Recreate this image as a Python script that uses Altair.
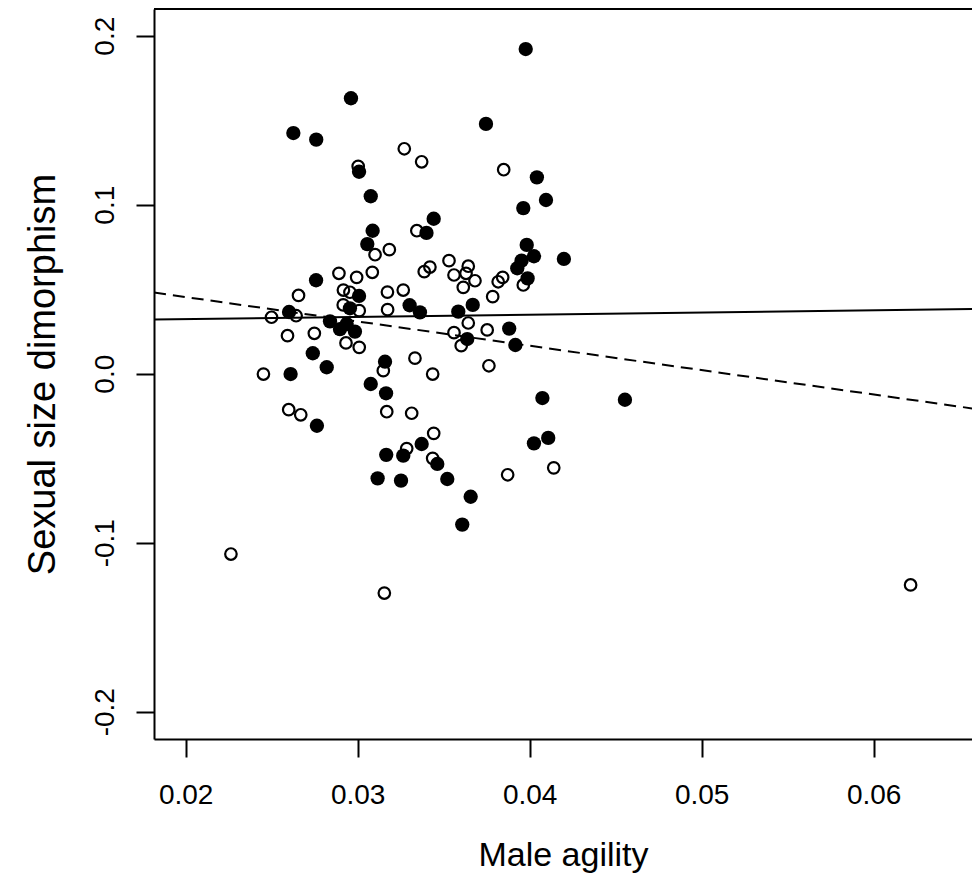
import altair as alt
import pandas as pd

# Filled circles (male agility, sexual size dimorphism)
fill_x = [0.03977, 0.03746, 0.02961, 0.02626, 0.02759, 0.03008, 0.04042, 0.04095, 0.03963, 0.03076,
          0.03442, 0.03400, 0.03087, 0.03056, 0.03983, 0.04025, 0.03953, 0.03928, 0.04199, 0.03988,
          0.02758, 0.03008, 0.02955, 0.02601, 0.03302, 0.03362, 0.03585, 0.03669, 0.02839, 0.02897,
          0.02936, 0.02984, 0.03881, 0.03637, 0.03917, 0.02739, 0.02820, 0.03159, 0.02610, 0.03076,
          0.03165, 0.04074, 0.04554, 0.02763, 0.03372, 0.04025, 0.04108, 0.03166, 0.03265, 0.03463,
          0.03116, 0.03252, 0.03521, 0.03657, 0.03608]
fill_y = [0.1921, 0.1478, 0.1630, 0.1424, 0.1385, 0.1195, 0.1162, 0.1028, 0.0980, 0.1050,
          0.0917, 0.0833, 0.0846, 0.0767, 0.0762, 0.0695, 0.0669, 0.0624, 0.0679, 0.0564,
          0.0553, 0.0460, 0.0387, 0.0365, 0.0405, 0.0363, 0.0367, 0.0407, 0.0310, 0.0264,
          0.0294, 0.0249, 0.0267, 0.0205, 0.0170, 0.0121, 0.0038, 0.0071, -0.0002, -0.0061,
          -0.0116, -0.0144, -0.0154, -0.0308, -0.0416, -0.0412, -0.0380, -0.0480, -0.0485, -0.0534,
          -0.0619, -0.0633, -0.0623, -0.0728, -0.0893]

# Open circles
open_x = [0.02263, 0.03155, 0.06215, 0.03003, 0.03271, 0.03372, 0.03849, 0.03344, 0.03184, 0.03101,
          0.02891, 0.02994, 0.03085, 0.03420, 0.03387, 0.02656, 0.02917, 0.02955, 0.03173, 0.03265,
          0.02916, 0.03009, 0.03174, 0.02499, 0.02642, 0.02592, 0.02748, 0.02932, 0.03009, 0.03149,
          0.03333, 0.02452, 0.03436, 0.02599, 0.02669, 0.03169, 0.03314, 0.03442, 0.03285, 0.03436,
          0.03531, 0.03643, 0.03560, 0.03630, 0.03682, 0.03614, 0.03843, 0.03817, 0.03785, 0.03963,
          0.03643, 0.03560, 0.03753, 0.03602, 0.03763, 0.04140, 0.03872]
open_y = [-0.1067, -0.1298, -0.1250, 0.1227, 0.1331, 0.1254, 0.1207, 0.0846, 0.0734, 0.0704,
          0.0594, 0.0570, 0.0600, 0.0631, 0.0604, 0.0463, 0.0495, 0.0482, 0.0483, 0.0495,
          0.0407, 0.0373, 0.0379, 0.0334, 0.0343, 0.0225, 0.0239, 0.0182, 0.0156, 0.0018,
          0.0092, -0.0002, -0.0002, -0.0213, -0.0243, -0.0225, -0.0234, -0.0353, -0.0443, -0.0501,
          0.0669, 0.0636, 0.0584, 0.0594, 0.0550, 0.0511, 0.0570, 0.0544, 0.0456, 0.0525,
          0.0300, 0.0243, 0.0259, 0.0166, 0.0047, -0.0557, -0.0598]

# Fitted lines (end points)
line_x = [0.01816, 0.06618]
solid_y = [0.0321, 0.0383]
dashed_y = [0.0480, -0.0212]

x_domain = [0.018157, 0.065720]
y_domain = [-0.21615, 0.21580]
x_ticks = [0.02, 0.03, 0.04, 0.05, 0.06]
y_ticks = [-0.2, -0.1, 0.0, 0.1, 0.2]

W, H = 818, 730
FONT = "Liberation Sans"

filled_df = pd.DataFrame({"x": fill_x, "y": fill_y})
open_df = pd.DataFrame({"x": open_x, "y": open_y})
solid_df = pd.DataFrame({"x": line_x, "y": solid_y})
dashed_df = pd.DataFrame({"x": line_x, "y": dashed_y})

xscale = alt.Scale(domain=x_domain, nice=False, zero=False)
yscale = alt.Scale(domain=y_domain, nice=False, zero=False)

xaxis = alt.Axis(values=x_ticks, format=".2f", title="Male agility", grid=False,
                 labelFontSize=28, labelFont=FONT, labelColor="black",
                 labelBaseline="alphabetic", labelPadding=46,
                 tickSize=18, tickWidth=2, tickColor="black",
                 domainColor="black", domainWidth=2,
                 titleFont=FONT, titleFontSize=34, titleFontWeight="normal", titleColor="black",
                 titleBaseline="alphabetic", titleY=126, labelFlush=False, labelOverlap=False)
yaxis = alt.Axis(values=y_ticks, title="Sexual size dimorphism", grid=False,
                 labelExpr="replace(format(datum.value, '.1f'), '\u2212', '-')",
                 labelAngle=-90, labelAlign="center", labelBaseline="alphabetic",
                 labelFontSize=28, labelFont=FONT, labelColor="black", labelPadding=23,
                 tickSize=18, tickWidth=2, tickColor="black",
                 domainColor="black", domainWidth=2,
                 titleFont=FONT, titleFontSize=38, titleFontWeight="normal", titleColor="black",
                 titleBaseline="alphabetic", titleAngle=-90, titleX=-100,
                 labelFlush=False, labelOverlap=False)

open_pts = alt.Chart(open_df).mark_point(
    shape="circle", filled=False, color="black", strokeWidth=2.2, size=133, opacity=1
).encode(x=alt.X("x:Q", scale=xscale, axis=xaxis), y=alt.Y("y:Q", scale=yscale, axis=yaxis))

filled_pts = alt.Chart(filled_df).mark_point(
    shape="circle", filled=True, color="black", size=205, opacity=1, strokeWidth=0
).encode(x=alt.X("x:Q", scale=xscale), y=alt.Y("y:Q", scale=yscale))

solid_line = alt.Chart(solid_df).mark_line(color="black", strokeWidth=2, clip=True).encode(
    x=alt.X("x:Q", scale=xscale), y=alt.Y("y:Q", scale=yscale))
dashed_line = alt.Chart(dashed_df).mark_line(color="black", strokeWidth=2, strokeDash=[12, 7], clip=True).encode(
    x=alt.X("x:Q", scale=xscale), y=alt.Y("y:Q", scale=yscale))

top_frame = alt.Chart(pd.DataFrame({"a": [0]})).mark_rule(color="black", strokeWidth=2).encode(
    x=alt.value(0), x2=alt.value(W), y=alt.value(0))

chart = alt.layer(open_pts, filled_pts, solid_line, dashed_line, top_frame).properties(
    width=W, height=H,
    autosize=alt.AutoSizeParams(type="none"),
    padding={"left": 146, "top": 1, "right": 0, "bottom": 134},
    background="white",
).configure_view(stroke=None)

chart.save("out.html", embed_options={"renderer": "svg", "actions": False})
